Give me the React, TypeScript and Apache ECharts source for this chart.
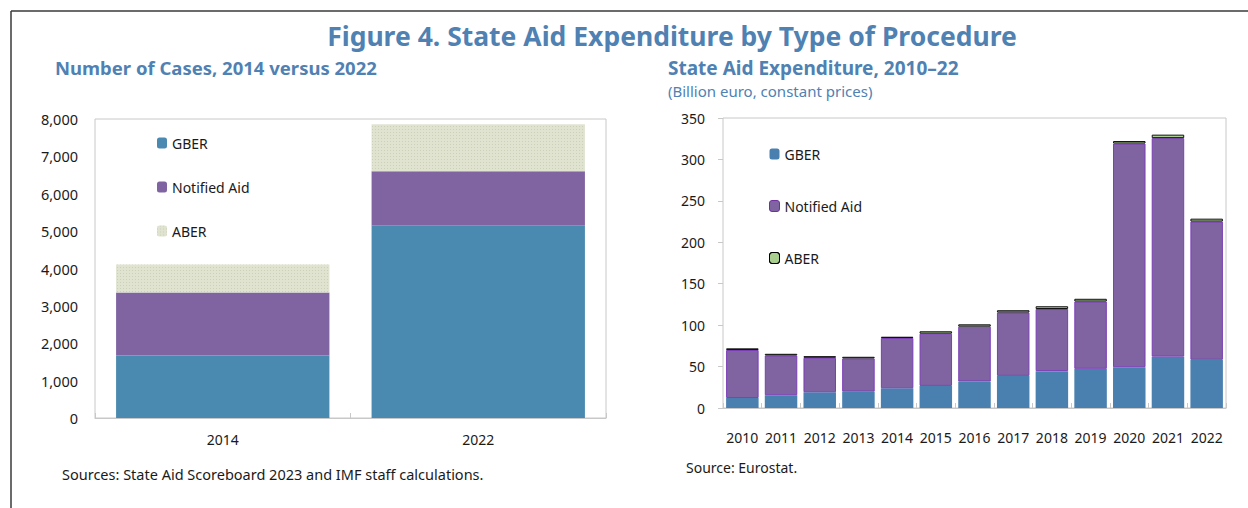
import React, { useEffect, useRef } from "react";
import * as echarts from "echarts";

const leftCategories = ["2014", "2022"];
const leftGBER = [1670, 5160];
const leftNotified = [1690, 1440];
const leftABER = [750, 1260];

const rightCategories = ["2010", "2011", "2012", "2013", "2014", "2015", "2016", "2017", "2018", "2019", "2020", "2021", "2022"];
const rightGBER = [12, 15.4, 19, 19.8, 23.8, 26.7, 32, 38.8, 44.5, 47.3, 49.2, 62, 58.2];
const rightNotified = [58, 48, 41.6, 40, 60.7, 63, 66.2, 76.4, 75, 81.2, 270, 263.7, 166.8];
const rightABER = [2, 2, 2, 2, 1.5, 2.9, 2.8, 2.8, 3.3, 3.3, 3, 4.2, 3.5];

const FONT = "Noto Sans";
const BLUE = "#4f81b2";
const TXT = "#1a1a1a";

const C_L_GBER = "#4a8ab0";
const C_L_NOT = "#8064a2";
const C_L_ABER = "#dfe3d0";
const C_R_GBER = "#4a80b0";
const C_R_NOT = "#8064a2";
const C_R_ABER = "#a9d08e";

const aberDecal = {
  symbol: "rect",
  symbolSize: 1,
  color: "rgba(165,175,140,0.35)",
  dashArrayX: [1, 2],
  dashArrayY: [1, 2],
  rotation: 0,
};

export default function App() {
  const ref = useRef<HTMLDivElement>(null);
  useEffect(() => {
    if (!ref.current) return;
    const chart = echarts.init(ref.current, undefined, { renderer: "svg" });
    const axisLabelStyle = { color: TXT, fontFamily: FONT, fontSize: 14 };
    chart.setOption({
      animation: false,
      backgroundColor: "#ffffff",
      textStyle: { fontFamily: FONT },
      title: [
        {
          text: "Figure 4. State Aid Expenditure by Type of Procedure",
          left: 672,
          textAlign: "center",
          top: 22,
          padding: 0,
          textStyle: { color: BLUE, fontFamily: FONT, fontSize: 26.5, fontWeight: "bold" },
        },
        {
          text: "Number of Cases, 2014 versus 2022",
          left: 55,
          top: 58,
          padding: 0,
          textStyle: { color: BLUE, fontFamily: FONT, fontSize: 18.5, fontWeight: "bold" },
        },
        {
          text: "State Aid Expenditure, 2010–22",
          left: 668,
          top: 58,
          padding: 0,
          textStyle: { color: BLUE, fontFamily: FONT, fontSize: 19, fontWeight: "bold" },
        },
        {
          text: "(Billion euro, constant prices)",
          left: 668,
          top: 83,
          padding: 0,
          textStyle: { color: BLUE, fontFamily: FONT, fontSize: 15, fontWeight: "normal" },
        },
        {
          text: "Sources: State Aid Scoreboard 2023 and IMF staff calculations.",
          left: 62,
          top: 466,
          padding: 0,
          textStyle: { color: TXT, fontFamily: FONT, fontSize: 14.5, fontWeight: "normal" },
        },
        {
          text: "Source: Eurostat.",
          left: 686,
          top: 460,
          padding: 0,
          textStyle: { color: TXT, fontFamily: FONT, fontSize: 14, fontWeight: "normal" },
        },
      ],
      legend: [
        {
          orient: "vertical",
          left: 152,
          top: 130,
          itemWidth: 10,
          itemHeight: 11,
          itemGap: 28,
          textStyle: { color: TXT, fontFamily: FONT, fontSize: 14, lineHeight: 16 },
          data: [
            { name: "GBER", itemStyle: { color: C_L_GBER, borderWidth: 0 } },
            { name: "Notified Aid", itemStyle: { color: C_L_NOT, borderWidth: 0 } },
            { name: "ABER", itemStyle: { color: C_L_ABER, borderWidth: 0, decal: aberDecal } },
          ],
        },
        {
          orient: "vertical",
          left: 764,
          top: 141,
          itemWidth: 10,
          itemHeight: 11,
          itemGap: 36,
          textStyle: { color: TXT, fontFamily: FONT, fontSize: 14, lineHeight: 16 },
          data: [
            { name: "GBER", itemStyle: { color: C_R_GBER, borderWidth: 0 } },
            { name: "Notified Aid", itemStyle: { color: C_R_NOT, borderColor: "#7030a0", borderWidth: 1 } },
            { name: "ABER", itemStyle: { color: C_R_ABER, borderColor: "#000000", borderWidth: 1 } },
          ],
        },
      ],
      grid: [
        { left: 95, top: 119, width: 511, height: 299, show: true, borderColor: "#c8c8c8", borderWidth: 1 },
        { left: 723, top: 118, width: 503, height: 290, show: true, borderColor: "#c8c8c8", borderWidth: 1 },
      ],
      xAxis: [
        {
          type: "category",
          gridIndex: 0,
          data: leftCategories,
          axisLine: { show: true, lineStyle: { color: "#c8c8c8" } },
          axisTick: { show: true, inside: true, length: 5, lineStyle: { color: "#c8c8c8" } },
          axisLabel: { ...axisLabelStyle, margin: 14 },
        },
        {
          type: "category",
          gridIndex: 1,
          data: rightCategories,
          axisLine: { show: true, lineStyle: { color: "#c8c8c8" } },
          axisTick: { show: true, inside: true, length: 5, lineStyle: { color: "#c8c8c8" } },
          axisLabel: { ...axisLabelStyle, margin: 22, interval: 0 },
        },
      ],
      yAxis: [
        {
          type: "value",
          gridIndex: 0,
          min: 0,
          max: 8000,
          interval: 1000,
          axisLine: { show: false },
          axisTick: { show: false },
          splitLine: { show: false },
          axisLabel: {
            ...axisLabelStyle,
            fontSize: 14.5,
            margin: 17,
            formatter: (v: number) => v.toLocaleString("en-US"),
          },
        },
        {
          type: "value",
          gridIndex: 1,
          min: 0,
          max: 350,
          interval: 50,
          axisLine: { show: false },
          axisTick: { show: true, length: 5, lineStyle: { color: "#c8c8c8" } },
          splitLine: { show: false },
          axisLabel: { ...axisLabelStyle, margin: 18 },
        },
      ],
      series: [
        {
          name: "GBER",
          type: "bar",
          stack: "L",
          xAxisIndex: 0,
          yAxisIndex: 0,
          barCategoryGap: "16.5%",
          data: leftGBER,
          itemStyle: { color: C_L_GBER },
        },
        {
          name: "Notified Aid",
          type: "bar",
          stack: "L",
          xAxisIndex: 0,
          yAxisIndex: 0,
          data: leftNotified,
          itemStyle: { color: C_L_NOT },
        },
        {
          name: "ABER",
          type: "bar",
          stack: "L",
          xAxisIndex: 0,
          yAxisIndex: 0,
          data: leftABER,
          itemStyle: { color: C_L_ABER, decal: aberDecal },
        },
        {
          name: "GBER",
          type: "bar",
          stack: "R",
          xAxisIndex: 1,
          yAxisIndex: 1,
          barCategoryGap: "16%",
          data: rightGBER,
          itemStyle: { color: C_R_GBER },
        },
        {
          name: "Notified Aid",
          type: "bar",
          stack: "R",
          xAxisIndex: 1,
          yAxisIndex: 1,
          data: rightNotified,
          itemStyle: { color: C_R_NOT, borderColor: "#7a3db5", borderWidth: 1 },
        },
        {
          name: "ABER",
          type: "bar",
          stack: "R",
          xAxisIndex: 1,
          yAxisIndex: 1,
          data: rightABER,
          itemStyle: { color: C_R_ABER, borderColor: "#111111", borderWidth: 1 },
        },
      ],
      graphic: [
        { type: "line", shape: { x1: 11, y1: 11, x2: 1248, y2: 11 }, style: { stroke: "#3a3a3a", lineWidth: 1.5 } },
        { type: "line", shape: { x1: 11, y1: 11, x2: 11, y2: 508 }, style: { stroke: "#3a3a3a", lineWidth: 1.5 } },
      ],
    });
    return () => chart.dispose();
  }, []);
  return <div ref={ref} style={{ width: 1248, height: 508, position: "absolute", left: 0, top: 0 }} />;
}
